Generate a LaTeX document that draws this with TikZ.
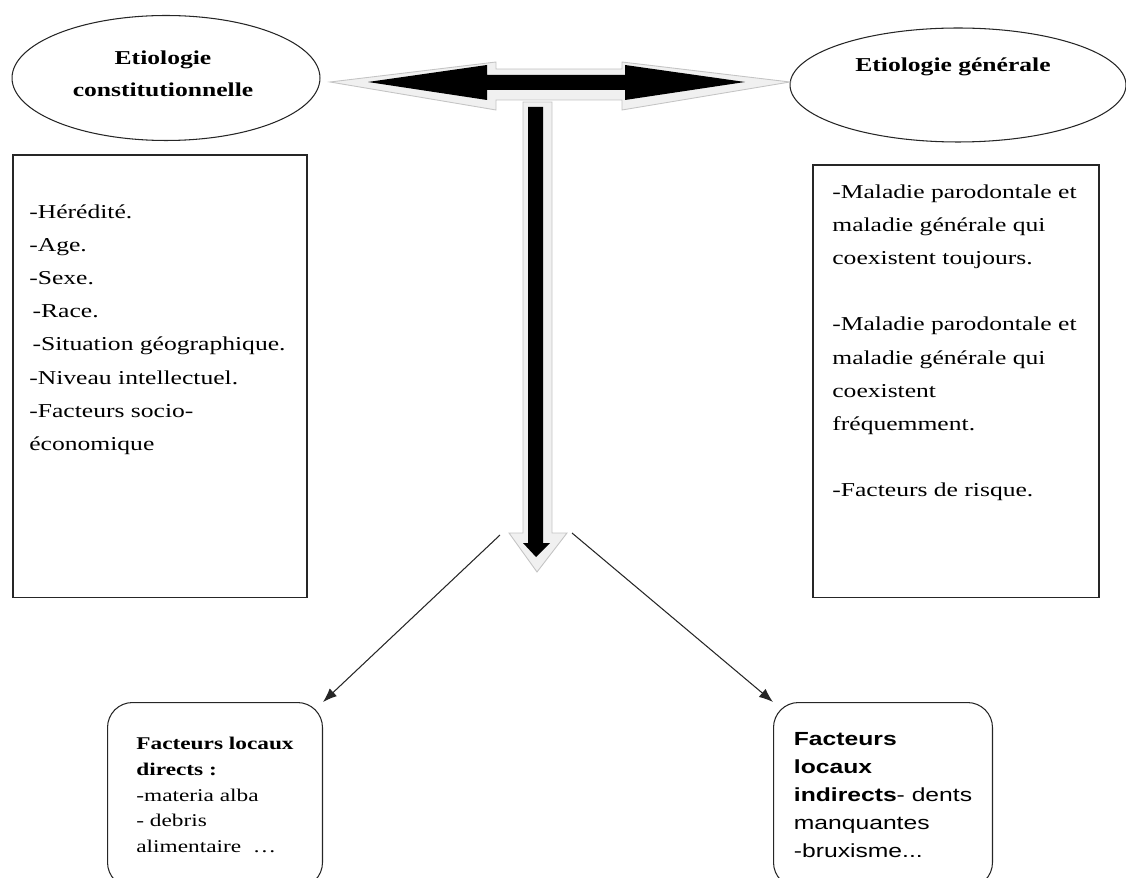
\documentclass[tikz,border=0pt]{standalone}
\usepackage{fontspec}
\setmainfont{Liberation Serif}[FakeStretch=1.3]
\setsansfont{Liberation Sans}[FakeStretch=1.3]
\usetikzlibrary{shapes.geometric,arrows.meta}
\definecolor{rim}{HTML}{F0F0F0}
\definecolor{rimedge}{HTML}{C4C4C4}
\definecolor{trait}{HTML}{262626}

\begin{document}
\begin{tikzpicture}[x=0.02cm, y=-0.02cm,
    titre/.style={font=\fontsize{11.2}{18}\selectfont\bfseries, align=center},
    liste/.style={font=\fontsize{11.2}{18.9}\selectfont, align=left, anchor=north west, inner sep=0pt},
    cadre/.style={draw=trait, line width=0.9pt, anchor=north west},
    bulle/.style={draw=trait, line width=0.6pt, rounded corners=0.5cm, anchor=north west, align=left},
    lien/.style={draw=trait, line width=0.6pt, -{Latex[length=8pt,width=6pt]}}]
  \useasboundingbox (0,0) rectangle (1126,878);
  \clip (0,0) rectangle (1126,878);

  \node[draw=trait, line width=0.6pt, ellipse, minimum width=6.16cm, minimum height=2.5cm] (ellconst) at (166,78) {};
  \node[titre] (tconst) at (163,74) {Etiologie\\constitutionnelle};
  \node[draw=trait, line width=0.6pt, ellipse, minimum width=6.72cm, minimum height=2.28cm] (ellgen) at (958,85) {};
  \node[titre] (tgen) at (953,67) {Etiologie générale};

  \filldraw[fill=rim, draw=rimedge, line width=0.5pt] (330,82) -- (496,62) -- (496,69) -- (622,69) -- (622,62) -- (790,82)
    -- (622,110) -- (622,100) -- (496,100) -- (496,110) -- cycle;
  \fill (368,82) -- (487,65) -- (487,75) -- (625,75) -- (625,65) -- (745,82) -- (625,100) -- (625,90) -- (487,90) -- (487,100) -- cycle;
  \filldraw[fill=rim, draw=rimedge, line width=0.5pt] (523,102) -- (552,102) -- (552,533) -- (567,533) -- (537,572) -- (509,533) -- (523,533) -- cycle;
  \fill (528,107) -- (543,107) -- (543,543) -- (550,543) -- (536,557) -- (523,543) -- (528,543) -- cycle;

  \node[cadre, minimum width=5.88cm, minimum height=8.86cm] (boxconst) at (12,154) {};
  \node[liste] (lconst) at (29,204) {-Hérédité.\\-Age.\\-Sexe.\\\,-Race.\\\,-Situation géographique.\\-Niveau intellectuel.\\-Facteurs socio-\\économique};
  \node[cadre, minimum width=5.72cm, minimum height=8.66cm] (boxgen) at (812,164) {};
  \node[liste] (lgen) at (832,184) {-Maladie parodontale et\\maladie générale qui\\coexistent toujours.\\[18.9pt]-Maladie parodontale et\\maladie générale qui\\coexistent\\fréquemment.\\[18.9pt]-Facteurs de risque.};

  \node[bulle, minimum width=4.3cm, minimum height=3.7cm, font=\fontsize{10.2}{14.7}\selectfont] (fld) at (107,702)
    {\textbf{Facteurs locaux}\\\textbf{directs :}\\-materia alba\\- debris\\alimentaire\ \ \dots};
  \node[bulle, minimum width=4.38cm, minimum height=3.7cm, font=\sffamily\fontsize{10.8}{15.9}\selectfont] (fli) at (773,702)
    {\textbf{Facteurs}\\\textbf{locaux}\\\textbf{indirects}- dents\\manquantes\\-bruxisme...};

  \coordinate (depG) at (500,535);
  \coordinate (depD) at (572,533);
  \draw[lien] (depG) -- (fld.north east);
  \draw[lien] (depD) -- (fli.north west);
\end{tikzpicture}
\end{document}
